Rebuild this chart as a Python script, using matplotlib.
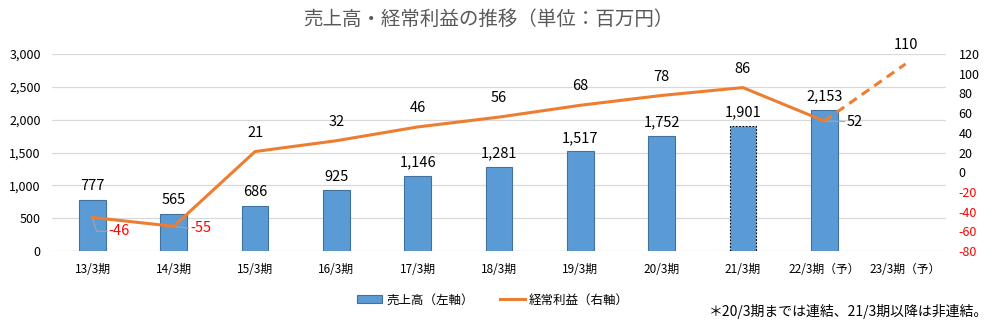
import matplotlib
matplotlib.use("Agg")
import matplotlib.pyplot as plt
from matplotlib.patches import Patch
from matplotlib.lines import Line2D

plt.rcParams['font.family'] = ['Noto Sans CJK JP', 'DejaVu Sans']

categories = ["13/3期", "14/3期", "15/3期", "16/3期", "17/3期", "18/3期",
              "19/3期", "20/3期", "21/3期", "22/3期（予）", "23/3期（予）"]
sales = [777, 565, 686, 925, 1146, 1281, 1517, 1752, 1901, 2153, None]
profit = [-46, -55, 21, 32, 46, 56, 68, 78, 86, 52, 110]
left_ticks = [0, 500, 1000, 1500, 2000, 2500, 3000]
right_ticks = list(range(-80, 121, 20))

bar_color = "#5B9BD5"
line_color = "#ED7D31"

fig = plt.figure(figsize=(9.96, 3.28), dpi=100)
ax = fig.add_axes([0.052, 0.235, 0.898, 0.6])
ax2 = ax.twinx()

x = list(range(len(categories)))

# Sales bars (left axis)
for i, v in enumerate(sales):
    if v is None:
        continue
    if i == 8:
        ax.bar(i, v, width=0.33, color=bar_color, edgecolor="black",
               linewidth=0.8, linestyle=(0, (1.5, 1.5)), zorder=2)
    else:
        ax.bar(i, v, width=0.33, color=bar_color, edgecolor="#41719C",
               linewidth=0.8, zorder=2)
    ax.text(i, v + 100, f"{v:,}", ha="center", va="bottom", fontsize=10.5)

ax.set_ylim(0, 3000)
ax.set_yticks(left_ticks)
ax.set_yticklabels([f"{t:,}" for t in left_ticks], fontsize=9)
ax.set_xlim(-0.5, len(categories) - 0.5)
ax.set_xticks(x)
ax.set_xticklabels(categories, fontsize=8.5)
ax.grid(axis="y", color="#D9D9D9", linewidth=0.9, zorder=0)
ax.set_axisbelow(True)
for s in ax.spines.values():
    s.set_visible(False)
ax2.spines[:].set_visible(False)
ax.tick_params(axis="y", length=0, pad=8)
ax.tick_params(axis="x", length=0, pad=9)

# Ordinary profit line (right axis)
ax2.plot(x[:10], profit[:10], color=line_color, linewidth=2.2, zorder=3)
ax2.plot(x[9:11], profit[9:11], color=line_color, linewidth=2.2,
         linestyle=(0, (3, 2)), zorder=3)
ax2.set_ylim(-80, 120)
ax2.set_yticks(right_ticks)
ax2.set_yticklabels([str(t) for t in right_ticks], fontsize=9)
for lbl, t in zip(ax2.get_yticklabels(), right_ticks):
    if t < 0:
        lbl.set_color("red")
ax2.tick_params(length=0, pad=9)

# Profit labels
for i, v in enumerate(profit):
    if i == 0:
        ax2.plot([i, i + 0.05, i + 0.18], [v, v - 14, v - 14],
                 color="#A6A6A6", linewidth=0.8, zorder=2)
        ax2.text(i + 0.2, v - 14, f"{v}", color="red", fontsize=10.5,
                 ha="left", va="center")
    elif i == 1:
        ax2.plot([i, i + 0.18], [v, v - 2], color="#A6A6A6",
                 linewidth=0.8, zorder=2)
        ax2.text(i + 0.2, v - 2, f"{v}", color="red", fontsize=10.5,
                 ha="left", va="center")
    elif i == 9:
        ax2.plot([i, i + 0.25], [v, v - 0.5], color="#A6A6A6",
                 linewidth=0.8, zorder=2)
        ax2.text(i + 0.27, v - 1, f"{v}", color="black", fontsize=10.5,
                 ha="left", va="center")
    else:
        ax2.text(i, v + 12, f"{v}", color="black", fontsize=10.5,
                 ha="center", va="bottom")

fig.text(0.49, 0.94, "売上高・経常利益の推移（単位：百万円）",
         ha="center", va="center", fontsize=14, color="#595959")

handles = [Patch(facecolor=bar_color, edgecolor="#41719C", linewidth=0.8),
           Line2D([0], [0], color=line_color, linewidth=2.2)]
fig.legend(handles, ["売上高（左軸）", "経常利益（右軸）"],
           loc="center", bbox_to_anchor=(0.495, 0.085), ncol=2,
           frameon=False, fontsize=9, handlelength=2.0,
           handleheight=0.6, columnspacing=2.1, handletextpad=0.3)

fig.text(0.992, 0.05, "＊20/3期までは連結、21/3期以降は非連結。",
         ha="right", va="center", fontsize=10)

fig.savefig("out.png", dpi=100)
